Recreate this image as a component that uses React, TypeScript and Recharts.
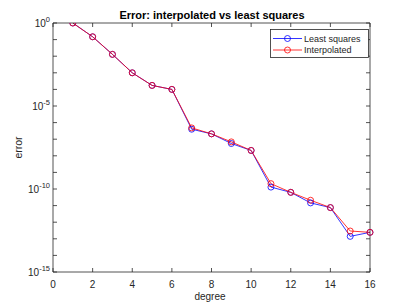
import React from 'react';
import { LineChart, Line, XAxis, YAxis, Legend, Customized } from 'recharts';

const degrees = [1, 2, 3, 4, 5, 6, 7, 8, 9, 10, 11, 12, 13, 14, 15, 16];
const leastSquares = [1.0, 1.48e-1, 1.29e-2, 1.0e-3, 1.74e-4, 1.0e-4, 4.0e-7, 2.1e-7, 5.5e-8, 2.1e-8, 1.3e-10, 6.3e-11, 1.45e-11, 7.6e-12, 1.4e-13, 2.45e-13];
const interpolated = [1.0, 1.48e-1, 1.29e-2, 1.0e-3, 1.74e-4, 1.0e-4, 4.8e-7, 2.1e-7, 6.9e-8, 2.1e-8, 2.1e-10, 6.3e-11, 2.1e-11, 7.6e-12, 2.95e-13, 2.45e-13];
const seriesNames = ['Least squares', 'Interpolated'];
const xTicks = [0, 2, 4, 6, 8, 10, 12, 14, 16];
const yExponents = [-15, -14, -13, -12, -11, -10, -9, -8, -7, -6, -5, -4, -3, -2, -1, 0];
const yTicks = yExponents.map((e) => Math.pow(10, e));

const data = degrees.map((d, i) => ({ degree: d, ls: leastSquares[i], interp: interpolated[i] }));

const FONT = '"Liberation Sans", Arial, Helvetica, sans-serif';
const AXIS = '#262626';
const TL = 4;

const BottomTick = (p: any) => (
  <g>
    <line x1={p.x} x2={p.x} y1={p.y} y2={p.y - TL} stroke={AXIS} strokeWidth={0.8} />
    <text x={p.x} y={p.y + 16} textAnchor="middle" fontSize={10} fill={AXIS} fontFamily={FONT}>
      {p.payload.value}
    </text>
  </g>
);
const TopTick = (p: any) => (
  <line x1={p.x} x2={p.x} y1={p.y} y2={p.y + TL} stroke={AXIS} strokeWidth={0.8} />
);
const LeftTick = (p: any) => {
  const e = Math.round(Math.log10(p.payload.value));
  return (
    <g>
      <line x1={p.x} x2={p.x + TL} y1={p.y} y2={p.y} stroke={AXIS} strokeWidth={0.8} />
      {e % 5 === 0 && (
        <text x={p.x - 3} y={p.y + 4} textAnchor="end" fontSize={10} fill={AXIS} fontFamily={FONT}>
          10
          <tspan dy={-5} fontSize={7.5}>{e === 0 ? '0' : String(e)}</tspan>
        </text>
      )}
    </g>
  );
};
const RightTick = (p: any) => (
  <line x1={p.x} x2={p.x - TL} y1={p.y} y2={p.y} stroke={AXIS} strokeWidth={0.8} />
);

const renderLegend = (props: any) => {
  const payload = [...(props.payload || [])].sort(
    (a: any, b: any) => seriesNames.indexOf(a.value) - seriesNames.indexOf(b.value)
  );
  return (
    <svg width={99} height={29} style={{ display: 'block' }}>
      <rect x={0.5} y={0.5} width={98} height={28} fill="#fff" stroke={AXIS} strokeWidth={0.8} />
      {payload.map((entry: any, i: number) => {
        const cy = 9.5 + i * 11.5;
        return (
          <g key={i}>
            <line x1={3} x2={32} y1={cy} y2={cy} stroke={entry.color} strokeWidth={0.8} />
            <circle cx={17.5} cy={cy} r={3} fill="none" stroke={entry.color} strokeWidth={0.8} />
            <text x={34} y={cy + 3.2} fontSize={9} fill={AXIS} fontFamily={FONT}>
              {entry.value}
            </text>
          </g>
        );
      })}
    </svg>
  );
};

const Texts = () => (
  <g fontFamily={FONT} fill={AXIS}>
    <text x={212} y={19} textAnchor="middle" fontSize={11} fontWeight="bold" fill="#000">
      Error: interpolated vs least squares
    </text>
    <text x={210} y={300} textAnchor="middle" fontSize={10}>
      degree
    </text>
    <text x={21.5} y={147.5} textAnchor="middle" fontSize={10.5} transform="rotate(-90 21.5 147.5)">
      error
    </text>
  </g>
);

export default function App() {
  return (
    <div style={{ position: 'absolute', left: 0, top: 0, background: '#fff' }}>
      <LineChart width={409} height={307} data={data} margin={{ top: 22, right: 38, bottom: 5, left: 13 }}>
        <XAxis
          xAxisId={0}
          dataKey="degree"
          type="number"
          domain={[0, 16]}
          ticks={xTicks}
          height={30}
          tickSize={0}
          tickMargin={0}
          tickLine={false}
          tick={BottomTick}
          axisLine={{ stroke: AXIS, strokeWidth: 0.8 }}
          interval={0}
        />
        <XAxis
          xAxisId="top"
          orientation="top"
          dataKey="degree"
          type="number"
          domain={[0, 16]}
          ticks={xTicks}
          height={1}
          tickSize={0}
          tickMargin={0}
          tickLine={false}
          tick={TopTick}
          axisLine={{ stroke: AXIS, strokeWidth: 0.8 }}
          interval={0}
        />
        <YAxis
          yAxisId={0}
          type="number"
          scale="log"
          domain={[1e-15, 1]}
          allowDataOverflow
          ticks={yTicks}
          width={40}
          tickSize={0}
          tickMargin={0}
          tickLine={false}
          tick={LeftTick}
          axisLine={{ stroke: AXIS, strokeWidth: 0.8 }}
          interval={0}
        />
        <YAxis
          yAxisId="right"
          orientation="right"
          type="number"
          scale="log"
          domain={[1e-15, 1]}
          allowDataOverflow
          ticks={yTicks}
          width={1}
          tickSize={0}
          tickMargin={0}
          tickLine={false}
          tick={RightTick}
          axisLine={{ stroke: AXIS, strokeWidth: 0.8 }}
          interval={0}
        />
        <Line
          dataKey="ls"
          name="Least squares"
          stroke="#0000ff"
          strokeWidth={0.8}
          dot={{ r: 3, fill: 'none', stroke: '#0000ff', strokeWidth: 0.8 }}
          isAnimationActive={false}
        />
        <Line
          dataKey="interp"
          name="Interpolated"
          stroke="#ff0000"
          strokeWidth={0.8}
          dot={{ r: 3, fill: 'none', stroke: '#ff0000', strokeWidth: 0.8 }}
          isAnimationActive={false}
        />
        <Legend
          layout="vertical"
          align="center"
          verticalAlign="middle"
          content={renderLegend}
          wrapperStyle={{ position: 'absolute', left: 270, top: 29, width: 99, height: 29 }}
        />
        <Customized component={Texts} />
      </LineChart>
    </div>
  );
}
